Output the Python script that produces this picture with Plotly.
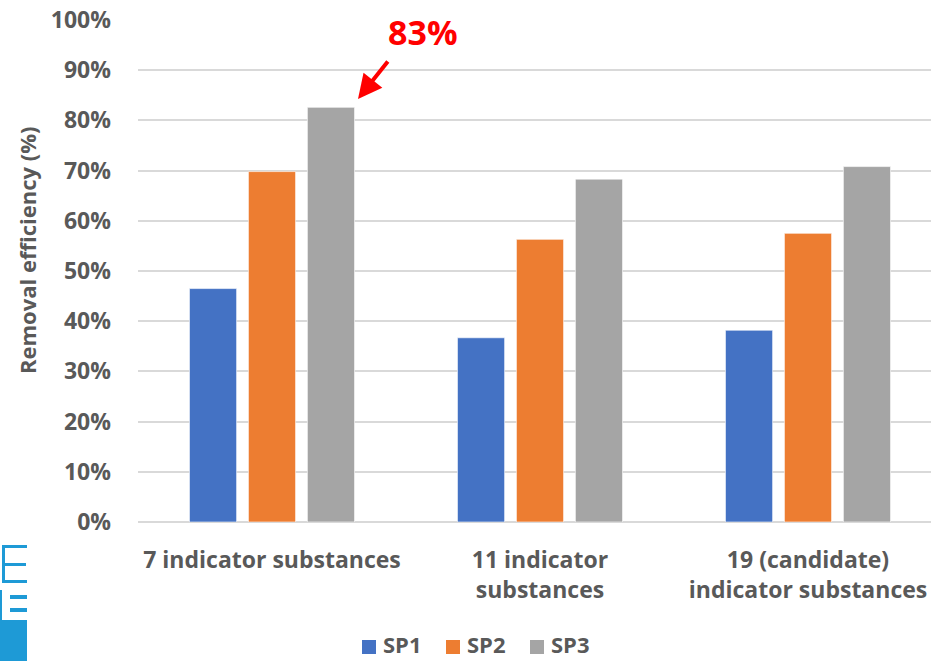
import plotly.graph_objects as go

# Removal efficiency per indicator set and sampling point
categories = ["7 indicator substances", "11 indicator<br>substances", "19 (candidate)<br>indicator substances"]
series_names = ["SP1", "SP2", "SP3"]
sp1 = [0.465, 0.367, 0.382]
sp2 = [0.698, 0.563, 0.575]
sp3 = [0.826, 0.683, 0.708]
colors = ["#4472C4", "#ED7D31", "#A5A5A5"]
y_ticks = [i / 10 for i in range(11)]

W, H = 931, 661
L, R, T, B = 138, 931, 20, 522  # plot area in pixels

fig = go.Figure()
for name, vals, col in zip(series_names, [sp1, sp2, sp3], colors):
    fig.add_trace(go.Bar(
        x=categories, y=vals, name=name,
        marker=dict(color=col, line=dict(color="rgba(255,255,255,0.6)", width=1)),
    ))

grey = "#595959"
font_family = "'Open Sans', Lato, sans-serif"
tick_font = dict(size=23, color=grey, weight="bold", family=font_family)

fig.update_layout(
    width=W, height=H,
    margin=dict(l=L, r=W - R, t=T, b=H - B, autoexpand=False),
    paper_bgcolor="white", plot_bgcolor="white",
    barmode="group", bargap=0.34, bargroupgap=0.2,
    font=dict(family=font_family, color=grey),
    showlegend=False,
    xaxis=dict(
        range=[-0.5, -0.5 + (R - L) / 268],
        showgrid=False, showline=False, zeroline=False,
        ticks="", ticklabelstandoff=22,
        tickfont=tick_font,
        fixedrange=True,
    ),
    yaxis=dict(
        range=[0, 1], tickvals=y_ticks, tickformat=".0%",
        showgrid=True, gridcolor="#D9D9D9", gridwidth=2,
        zeroline=True, zerolinecolor="#D9D9D9", zerolinewidth=2,
        showline=False, ticks="", ticklabelstandoff=26,
        tickfont=tick_font,
        fixedrange=True,
    ),
)

def px_x(px):
    return (px - L) / (R - L)

def px_y(py):
    return (B - py) / (B - T)

# Legend row below the category labels
legend_x0, legend_step, legend_y = 362, 84, 647
for i, (name, col) in enumerate(zip(series_names, colors)):
    sx = legend_x0 + i * legend_step
    fig.add_shape(type="rect", xref="paper", yref="paper",
                  x0=px_x(sx), x1=px_x(sx + 14), y0=px_y(legend_y + 7), y1=px_y(legend_y - 7),
                  fillcolor=col, line=dict(width=0))
    fig.add_annotation(text=name, xref="paper", yref="paper",
                       x=px_x(sx + 20), y=px_y(660), xanchor="left", yanchor="bottom",
                       showarrow=False, borderpad=0,
                       font=dict(size=22, color=grey, weight="bold", family=font_family))

# Axis title
fig.add_annotation(
    text="Removal efficiency (%)", textangle=-90,
    xref="paper", yref="paper", x=px_x(27), y=px_y(251),
    xanchor="center", yanchor="middle",
    showarrow=False, font=dict(size=22, color=grey, weight="bold", family=font_family),
)

# Callout for the highest value
peak = max(sp3)
fig.add_annotation(
    text=f"{round(peak * 100)}%",
    xref="paper", yref="paper", x=px_x(423), y=px_y(32),
    xanchor="center", yanchor="middle",
    showarrow=False, font=dict(size=34, color="#FF0000", weight="bold", family=font_family),
)
fig.add_annotation(
    text="", xref="paper", yref="paper",
    x=px_x(358), y=px_y(99), ax=31, ay=-39, axref="pixel", ayref="pixel",
    showarrow=True, arrowhead=2, arrowsize=1.2, arrowwidth=4, arrowcolor="#FF0000",
)

# Logo fragment at the lower left edge
logo = "#1E9AD6"
def rect(x0, y0, x1, y1):
    fig.add_shape(type="rect", xref="paper", yref="paper",
                  x0=px_x(x0), x1=px_x(x1), y0=px_y(y1), y1=px_y(y0),
                  fillcolor=logo, line=dict(width=0), layer="above")

rect(2, 545, 5, 583)     # E spine
rect(2, 545, 27, 548)    # E top
rect(2, 563, 26, 566)    # E middle
rect(2, 580, 27, 583)    # E bottom
rect(0, 590, 2, 621)     # bracket
rect(10, 595, 27, 599)
rect(10, 608, 27, 612)
rect(0, 620, 27, 661)    # solid block

fig.write_html("out.html")
